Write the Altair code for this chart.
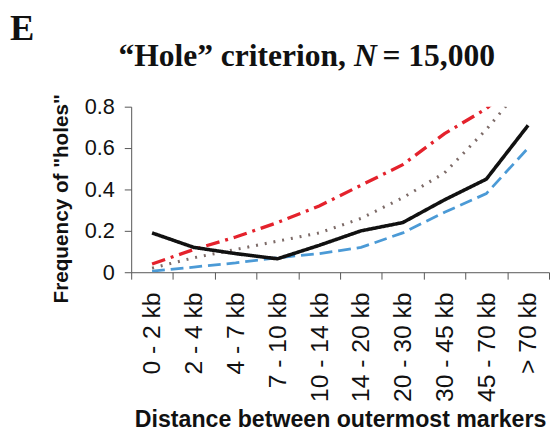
import altair as alt
import pandas as pd

categories = ["0 - 2 kb", "2 - 4 kb", "4 - 7 kb", "7 - 10 kb", "10 - 14 kb",
              "14 - 20 kb", "20 - 30 kb", "30 - 45 kb", "45 - 70 kb", "> 70 kb"]
series_names = ["dashed", "dotted", "dashdot", "solid"]
dashed_vals = [0.005, 0.025, 0.045, 0.07, 0.09, 0.12, 0.19, 0.29, 0.38, 0.60]
dotted_vals = [0.02, 0.07, 0.11, 0.15, 0.19, 0.26, 0.36, 0.48, 0.69, 0.93]
dashdot_vals = [0.04, 0.11, 0.17, 0.24, 0.32, 0.42, 0.52, 0.67, 0.79, 0.97]
solid_vals = [0.19, 0.12, 0.09, 0.065, 0.13, 0.20, 0.24, 0.35, 0.45, 0.71]
y_ticks = [0, 0.2, 0.4, 0.6, 0.8]

series_values = [dashed_vals, dotted_vals, dashdot_vals, solid_vals]
colors = ["#4b9ad6", "#7d6b68", "#e4222c", "#111111"]
dashes = [[13, 6], [2, 7], [14, 6, 3, 6], [1, 0]]
widths = [2.8, 3.6, 2.8, 2.1]

SANS = "Liberation Sans"
SERIF = "Liberation Serif"

rows = []
for name, vals in zip(series_names, series_values):
    for c, v in zip(categories, vals):
        rows.append({"cat": c, "value": v, "series": name})
df = pd.DataFrame(rows)

x_enc = alt.X("cat:N", sort=categories, bandPosition=0.5,
              scale=alt.Scale(type="band", paddingInner=0, paddingOuter=0),
              axis=alt.Axis(title="Distance between outermost markers",
                            tickBand="extent", labelAngle=270,
                            labelFont=SANS, labelFontSize=25, labelColor="#111",
                            labelPadding=13, tickSize=7, tickColor="#555",
                            domainColor="#555", labelAlign="right", labelBaseline="middle",
                            titleFont=SANS, titleFontSize=23.5, titleFontWeight="bold",
                            titleColor="#111", titleBaseline="alphabetic", titleY=157))
y_enc = alt.Y("value:Q",
              scale=alt.Scale(domain=[0, 0.8], nice=False, zero=True),
              axis=alt.Axis(title='Frequency of "holes"', values=y_ticks,
                            labelExpr="datum.value == 0 ? '0' : format(datum.value, '.1f')",
                            labelFont=SANS, labelFontSize=22, labelColor="#111",
                            labelPadding=10, tickSize=7, tickColor="#555",
                            domainColor="#555", grid=False,
                            titleFont=SANS, titleFontSize=21, titleFontWeight="bold",
                            titleColor="#111", titleAngle=270, titleBaseline="alphabetic",
                            titleX=-65, titleY=93, titleAlign="center"))

lines = alt.Chart(df).mark_line(clip=True).encode(
    x=x_enc,
    y=y_enc,
    color=alt.Color("series:N", scale=alt.Scale(domain=series_names, range=colors), legend=None),
    strokeDash=alt.StrokeDash("series:N", scale=alt.Scale(domain=series_names, range=dashes), legend=None),
    strokeWidth=alt.StrokeWidth("series:N", scale=alt.Scale(domain=series_names, range=widths), legend=None),
    detail="series:N",
)

def txt(s, x, y, size, font, align="left", style="normal", weight="bold"):
    return alt.Chart(pd.DataFrame({"t": [s]})).mark_text(
        align=align, baseline="alphabetic", font=font, fontSize=size,
        fontWeight=weight, fontStyle=style, color="#111"
    ).encode(x=alt.value(x), y=alt.value(y), text="t:N")

panel = txt("E", -123, -68, 37, SERIF)
t1 = txt("\u201cHole\u201d criterion,", 218, -41, 32, SERIF, align="right")
t2 = txt("N", 226, -41, 32, SERIF, style="italic")
t3 = txt("= 15,000", 255, -41, 32, SERIF)

chart = alt.layer(lines, panel, t1, t2, t3).properties(
    width=424, height=168,
    autosize=alt.AutoSizeParams(type="none"),
    padding={"left": 125, "top": 97, "right": 1, "bottom": 160},
).configure_view(stroke=None).configure_axis(grid=False)

chart.save("out.html", embed_options={"renderer": "svg", "actions": False})
